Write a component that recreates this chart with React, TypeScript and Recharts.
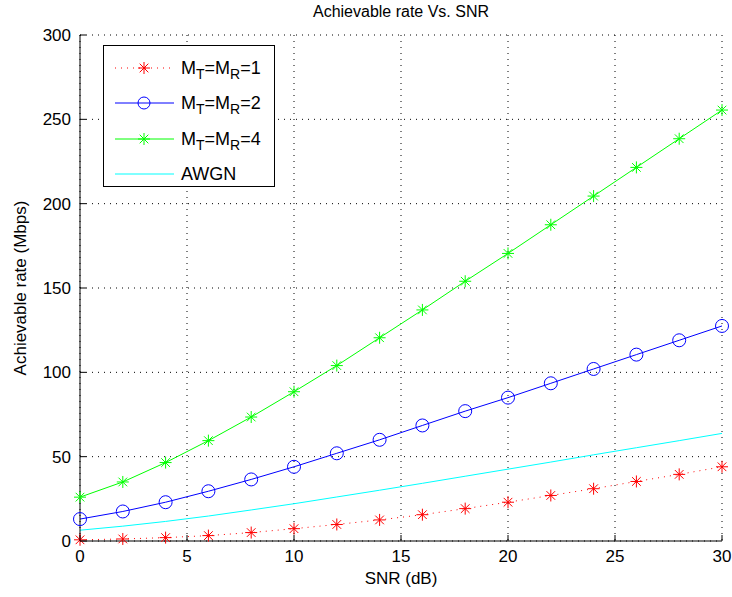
import React from 'react';
import { LineChart, Line, XAxis, YAxis, CartesianGrid } from 'recharts';

const snrDb = [0, 2, 4, 6, 8, 10, 12, 14, 16, 18, 20, 22, 24, 26, 28, 30];
const rateM1 = [0.7, 1.2, 2.0, 3.2, 5.0, 7.3, 9.8, 12.5, 15.6, 19.2, 23.0, 27.0, 31.0, 35.3, 39.5, 44.0];
const rateM2 = [13, 17.5, 23, 29.5, 36.5, 44, 52, 60, 68.5, 77, 85, 93.5, 102, 110.5, 119, 127.5];
const rateM4 = [26, 35, 46.5, 59.5, 73.5, 88.5, 104, 120.5, 137, 154, 170.5, 187.5, 204.5, 221.5, 238.5, 255.5];
const rateAwgn = [6.4, 8.8, 11.6, 14.8, 18.4, 22.1, 26.1, 30.1, 34.2, 38.4, 42.6, 46.8, 51.1, 55.3, 59.5, 63.8];

const xTicks = [0, 5, 10, 15, 20, 25, 30];
const yTicks = [0, 50, 100, 150, 200, 250, 300];

const data = snrDb.map((s, i) => ({
  snr: s,
  m1: rateM1[i],
  m2: rateM2[i],
  m4: rateM4[i],
  awgn: rateAwgn[i],
}));

const FONT = '"Liberation Sans", Arial, Helvetica, sans-serif';
const TICK_LEN = 6;

const Star = ({ cx, cy, color, r = 6 }: any) => {
  if (cx == null || cy == null) return null;
  const d = r * 0.72;
  return (
    <g stroke={color} strokeWidth={1}>
      <line x1={cx - r} y1={cy} x2={cx + r} y2={cy} />
      <line x1={cx} y1={cy - r} x2={cx} y2={cy + r} />
      <line x1={cx - d} y1={cy - d} x2={cx + d} y2={cy + d} />
      <line x1={cx - d} y1={cy + d} x2={cx + d} y2={cy - d} />
    </g>
  );
};

const BottomTick = ({ x, y, payload }: any) => (
  <g>
    <line x1={x} y1={y} x2={x} y2={y - TICK_LEN} stroke="#000" />
    <text x={x} y={y + 21} textAnchor="middle" fontSize={17} fontFamily={FONT} fill="#000">
      {payload.value}
    </text>
  </g>
);

const TopTick = ({ x, y }: any) => <line x1={x} y1={y} x2={x} y2={y + TICK_LEN} stroke="#000" />;

const LeftTick = ({ x, y, payload }: any) => (
  <g>
    <line x1={x} y1={y} x2={x + TICK_LEN} y2={y} stroke="#000" />
    <text x={x - 9} y={y} dy="0.36em" textAnchor="end" fontSize={17} fontFamily={FONT} fill="#000">
      {payload.value}
    </text>
  </g>
);

const RightTick = ({ x, y }: any) => <line x1={x} y1={y} x2={x - TICK_LEN} y2={y} stroke="#000" />;

const legendItems = [
  { key: 'm1', sub: '1', color: '#ff0000', dash: '1 5', marker: 'star' },
  { key: 'm2', sub: '2', color: '#0000ff', dash: undefined, marker: 'circle' },
  { key: 'm4', sub: '4', color: '#00ff00', dash: undefined, marker: 'star' },
  { key: 'awgn', sub: '', color: '#00ffff', dash: undefined, marker: 'none' },
];

const LegendBox = () => (
  <div
    style={{
      position: 'absolute',
      left: 103,
      top: 45,
      border: '1px solid #000',
      background: '#fff',
      width: 172,
      height: 142,
      boxSizing: 'border-box',
      paddingTop: 4,
      fontFamily: FONT,
    }}
  >
    {legendItems.map(item => (
      <div key={item.key} style={{ display: 'flex', alignItems: 'center', height: 35.5 }}>
        <svg width={76} height={20} style={{ flex: 'none' }}>
          <line x1={11} y1={10} x2={70} y2={10} stroke={item.color} strokeDasharray={item.dash} strokeWidth={1} />
          {item.marker === 'star' && <Star cx={40} cy={10} color={item.color} />}
          {item.marker === 'circle' && <circle cx={40} cy={10} r={6} fill="none" stroke={item.color} />}
        </svg>
        <span style={{ fontSize: 18, color: '#000', marginLeft: 1, lineHeight: '20px' }}>
          {item.sub ? (
            <>
              M<sub style={{ fontSize: 14, lineHeight: 0 }}>T</sub>=M<sub style={{ fontSize: 14, lineHeight: 0 }}>R</sub>={item.sub}
            </>
          ) : (
            'AWGN'
          )}
        </span>
      </div>
    ))}
  </div>
);

export default function App() {
  return (
    <div style={{ position: 'absolute', left: 0, top: 0, width: 732, height: 597, background: '#fff' }}>
      <div
        style={{
          position: 'absolute',
          left: 80,
          width: 642,
          top: 3,
          textAlign: 'center',
          fontFamily: FONT,
          fontSize: 16,
          color: '#000',
        }}
      >
        Achievable rate Vs. SNR
      </div>
      <LineChart width={732} height={597} data={data} margin={{ top: 35, right: 10, bottom: 16, left: 0 }}>
        <CartesianGrid stroke="#000" strokeDasharray="1 5" />
        <XAxis
          dataKey="snr"
          type="number"
          domain={[0, 30]}
          ticks={xTicks}
          height={40}
          tickSize={0}
          tickMargin={0}
          tick={<BottomTick />}
          axisLine={{ stroke: '#000' }}
          label={{ value: 'SNR (dB)', position: 'insideBottom', offset: -3, fontSize: 17, fontFamily: FONT, fill: '#000' }}
        />
        <XAxis
          xAxisId="top"
          orientation="top"
          dataKey="snr"
          type="number"
          domain={[0, 30]}
          ticks={xTicks}
          height={0}
          tickSize={0}
          tickMargin={0}
          tick={<TopTick />}
          axisLine={{ stroke: '#000' }}
        />
        <YAxis
          type="number"
          domain={[0, 300]}
          ticks={yTicks}
          width={80}
          tickSize={0}
          tickMargin={0}
          tick={<LeftTick />}
          axisLine={{ stroke: '#000' }}
          label={{
            value: 'Achievable rate (Mbps)',
            angle: -90,
            position: 'insideLeft',
            offset: 20,
            style: { textAnchor: 'middle' },
            fontSize: 17,
            fontFamily: FONT,
            fill: '#000',
          }}
        />
        <YAxis
          yAxisId="right"
          orientation="right"
          type="number"
          domain={[0, 300]}
          ticks={yTicks}
          width={0}
          tickSize={0}
          tickMargin={0}
          tick={<RightTick />}
          axisLine={{ stroke: '#000' }}
        />
        <Line
          dataKey="m1"
          stroke="#ff0000"
          strokeDasharray="1 5"
          strokeWidth={1}
          dot={(p: any) => <Star key={`m1-${p.index}`} cx={p.cx} cy={p.cy} color="#ff0000" />}
          isAnimationActive={false}
        />
        <Line
          dataKey="m2"
          stroke="#0000ff"
          strokeWidth={1}
          dot={{ r: 6.5, fill: 'none', stroke: '#0000ff', strokeWidth: 1 }}
          isAnimationActive={false}
        />
        <Line
          dataKey="m4"
          stroke="#00ff00"
          strokeWidth={1}
          dot={(p: any) => <Star key={`m4-${p.index}`} cx={p.cx} cy={p.cy} color="#00ff00" />}
          isAnimationActive={false}
        />
        <Line dataKey="awgn" stroke="#00ffff" strokeWidth={1} dot={false} isAnimationActive={false} />
      </LineChart>
      <LegendBox />
    </div>
  );
}
